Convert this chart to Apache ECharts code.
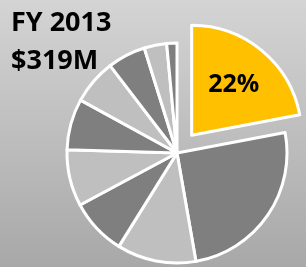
<!DOCTYPE html>
<html>
<head>
<meta charset="utf-8">
<script src="https://cdn.jsdelivr.net/npm/echarts@6/dist/echarts.min.js"></script>
<style>
  html, body { margin: 0; padding: 0; }
  #chart { width: 306px; height: 267px; background: linear-gradient(#d4d4d4, #a8a8a8); }
</style>
</head>
<body>
<div id="chart"></div>
<script>
var titleLines = ['FY 2013', '$319M'];
var shares = [22, 25.2, 11.6, 8.3, 8.3, 7.5, 6.6, 5.6, 3.3, 1.5];
var sliceNames = ['S1', 'S2', 'S3', 'S4', 'S5', 'S6', 'S7', 'S8', 'S9', 'S10'];
var highlightIndex = 0;

var chart = echarts.init(document.getElementById('chart'));

var dark = '#7f7f7f', light = '#bfbfbf', yellow = '#ffc000';

var pieData = shares.map(function (v, i) {
    var item = {
        value: v,
        name: sliceNames[i],
        itemStyle: { color: i % 2 === 1 ? dark : light }
    };
    if (i === highlightIndex) {
        item.selected = true;
        item.itemStyle = { color: yellow };
        item.select = { itemStyle: { color: yellow, borderColor: '#fff', borderWidth: 3 } };
    }
    return item;
});

// transparent copy, only used to place the percentage label a bit further out
var labelData = shares.map(function (v, i) {
    var item = { value: v, name: sliceNames[i], label: { show: false } };
    if (i === highlightIndex) {
        item.selected = true;
        item.label = {
            show: true,
            position: 'inside',
            formatter: Math.round(v) + '%',
            color: '#000',
            fontSize: 25,
            fontWeight: 'bold',
            fontFamily: 'Open Sans'
        };
    }
    return item;
});

var option = {
    animation: false,
    title: {
        text: titleLines.join('\n'),
        left: 6,
        top: -1,
        textStyle: {
            fontFamily: 'Open Sans',
            fontSize: 27,
            fontWeight: 'bold',
            color: '#000',
            lineHeight: 38
        }
    },
    series: [{
        type: 'pie',
        center: [177, 153],
        radius: 110,
        startAngle: 90,
        clockwise: true,
        selectedMode: 'single',
        selectedOffset: 23,
        silent: true,
        itemStyle: {
            borderColor: '#fff',
            borderWidth: 3
        },
        label: { show: false },
        labelLine: { show: false },
        data: pieData
    }, {
        type: 'pie',
        center: [177, 153],
        radius: [0, 126],
        startAngle: 90,
        clockwise: true,
        selectedMode: 'single',
        selectedOffset: 23,
        silent: true,
        itemStyle: { color: 'rgba(0,0,0,0)', borderWidth: 0 },
        select: { itemStyle: { color: 'rgba(0,0,0,0)', borderWidth: 0 } },
        labelLine: { show: false },
        data: labelData
    }]
};

chart.setOption(option);
</script>
</body>
</html>
